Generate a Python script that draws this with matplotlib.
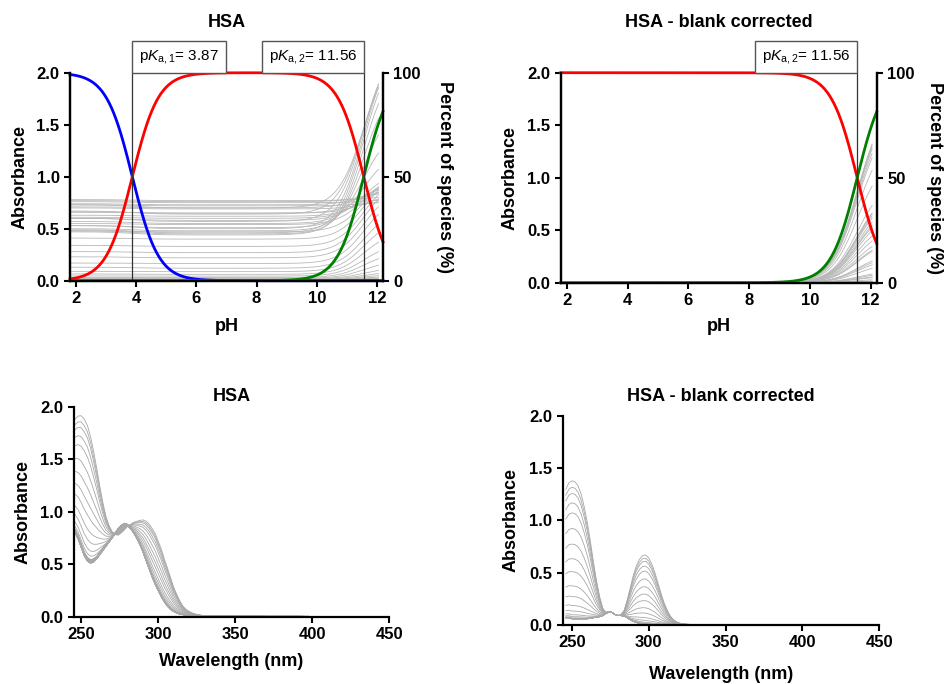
import numpy as np
import matplotlib.pyplot as plt
import matplotlib.transforms as mtransforms

plt.rcParams['font.family'] = ['Liberation Sans', 'DejaVu Sans']
plt.rcParams['font.weight'] = 'bold'
plt.rcParams['mathtext.fontset'] = 'custom'
plt.rcParams['mathtext.rm'] = 'Liberation Sans:normal'
plt.rcParams['mathtext.it'] = 'Liberation Sans:italic:normal'

# pKa values from the fit
pka1 = 3.87
pka2 = 11.56

# pH of the measured spectra
ph_points = [1.85, 2.1, 2.4, 2.7, 3.0, 3.3, 3.6, 3.9, 4.2, 4.5, 4.9, 5.3,
             5.8, 6.3, 6.8, 7.3, 7.8, 8.3, 8.8, 9.2, 9.6, 9.9, 10.2, 10.45,
             10.7, 10.9, 11.1, 11.25, 11.4, 11.55, 11.7, 11.8, 11.9, 11.97, 12.05]

# wavelength grid (nm)
wavelength = [246, 248, 250, 252, 254, 256, 258, 260, 262, 264, 266, 268, 270,
              272, 274, 276, 278, 280, 282, 284, 286, 288, 290, 292, 294, 296,
              298, 300, 302, 304, 306, 308, 310, 312, 314, 316, 318, 320, 322,
              324, 326, 328, 330, 340, 355, 370, 390, 410, 430, 450]

# species spectra (absorbance) used for the spectra panel
spec_acid = [0.83, 0.77, 0.69, 0.61, 0.56, 0.54, 0.55, 0.57, 0.61, 0.65, 0.69, 0.72, 0.76,
             0.80, 0.84, 0.87, 0.89, 0.88, 0.85, 0.81, 0.76, 0.70, 0.63, 0.55, 0.47, 0.39,
             0.32, 0.26, 0.20, 0.15, 0.105, 0.075, 0.052, 0.037, 0.026, 0.02, 0.015, 0.012, 0.01,
             0.009, 0.008, 0.007, 0.006, 0.005, 0.004, 0.003, 0.003, 0.002, 0.002, 0.002]
spec_neutral = [0.80, 0.74, 0.66, 0.58, 0.53, 0.51, 0.52, 0.55, 0.59, 0.63, 0.67, 0.71, 0.75,
                0.79, 0.83, 0.86, 0.88, 0.87, 0.84, 0.80, 0.75, 0.69, 0.62, 0.54, 0.46, 0.38,
                0.31, 0.25, 0.19, 0.14, 0.10, 0.07, 0.05, 0.035, 0.025, 0.02, 0.015, 0.012, 0.01,
                0.009, 0.008, 0.007, 0.006, 0.005, 0.004, 0.003, 0.003, 0.002, 0.002, 0.002]
spec_base = [2.23, 2.29, 2.32, 2.30, 2.24, 2.11, 1.92, 1.70, 1.46, 1.24, 1.05, 0.92, 0.83,
             0.78, 0.76, 0.78, 0.81, 0.86, 0.89, 0.93, 0.96, 0.99, 1.02, 1.03, 1.02, 0.99,
             0.95, 0.87, 0.79, 0.68, 0.58, 0.47, 0.355, 0.27, 0.19, 0.126, 0.087, 0.062, 0.043,
             0.030, 0.022, 0.015, 0.011, 0.006, 0.004, 0.003, 0.003, 0.002, 0.002, 0.002]

# titration traces (absorbance vs pH panel), low and mid pH levels
trace_acid = [0.73, 0.67, 0.60, 0.53, 0.49, 0.47, 0.48, 0.50, 0.53, 0.57, 0.60, 0.63, 0.66,
              0.70, 0.73, 0.76, 0.78, 0.77, 0.74, 0.71, 0.66, 0.61, 0.55, 0.48, 0.41, 0.34,
              0.28, 0.23, 0.17, 0.13, 0.09, 0.065, 0.046, 0.032, 0.023, 0.018, 0.014, 0.011, 0.009,
              0.008, 0.007, 0.006, 0.005, 0.004, 0.003, 0.003, 0.002, 0.002, 0.002, 0.002]
trace_neutral = [0.70, 0.64, 0.57, 0.50, 0.46, 0.44, 0.45, 0.48, 0.51, 0.55, 0.58, 0.62, 0.65,
                 0.69, 0.72, 0.75, 0.77, 0.76, 0.73, 0.70, 0.65, 0.60, 0.54, 0.47, 0.40, 0.33,
                 0.27, 0.22, 0.165, 0.12, 0.087, 0.061, 0.044, 0.03, 0.022, 0.017, 0.013, 0.01, 0.009,
                 0.008, 0.007, 0.006, 0.005, 0.004, 0.003, 0.003, 0.002, 0.002, 0.002, 0.002]

# blank corrected: residual at low pH and spectrum at the highest pH
bc_low = [0.07, 0.07, 0.06, 0.06, 0.06, 0.06, 0.06, 0.06, 0.065, 0.07, 0.075, 0.08, 0.09,
          0.11, 0.125, 0.12, 0.10, 0.09, 0.09, 0.085, 0.07, 0.05, 0.035, 0.025, 0.015, 0.01,
          0.006, 0.004, 0.003, 0.003, 0.003, 0.003, 0.003, 0.003, 0.003, 0.002, 0.002, 0.002, 0.002,
          0.002, 0.002, 0.002, 0.002, 0.002, 0.002, 0.002, 0.002, 0.002, 0.002, 0.002]
bc_high = [1.30, 1.36, 1.38, 1.37, 1.33, 1.25, 1.13, 0.98, 0.80, 0.60, 0.42, 0.27, 0.16,
           0.12, 0.13, 0.12, 0.10, 0.09, 0.10, 0.14, 0.24, 0.36, 0.48, 0.57, 0.63, 0.665,
           0.67, 0.64, 0.58, 0.50, 0.40, 0.30, 0.21, 0.14, 0.085, 0.05, 0.03, 0.018, 0.012,
           0.008, 0.006, 0.005, 0.004, 0.003, 0.003, 0.002, 0.002, 0.002, 0.002, 0.002]

GREY = '#b8b8b8'


def fractions(ph):
    # species distribution of a diprotic system
    h = 10.0 ** (-np.asarray(ph))
    k1 = 10.0 ** (-pka1)
    k2 = 10.0 ** (-pka2)
    d = h * h + h * k1 + k1 * k2
    return h * h / d, h * k1 / d, k1 * k2 / d


def deprot(ph):
    return 1.0 / (1.0 + 10.0 ** (pka2 - np.asarray(ph)))


def style(ax):
    for side in ['left', 'bottom', 'right']:
        ax.spines[side].set_linewidth(1.6)
    ax.spines['top'].set_visible(False)
    ax.tick_params(direction='out', length=4, width=1.5, labelsize=12)


def pka_box(ax, x, text, side):
    trans = mtransforms.blended_transform_factory(ax.transData, ax.transAxes)
    dx = 5 if side == 'left' else -5
    ax.annotate(text, xy=(x, 1.0), xycoords=trans, xytext=(dx, 5), textcoords='offset points',
                ha=side, va='bottom', fontsize=11, fontweight='normal', annotation_clip=False,
                bbox=dict(boxstyle='square,pad=0.45', fc='white', ec='#555555', lw=1))


S1 = np.array(spec_acid)
S2 = np.array(spec_neutral)
S3 = np.array(spec_base)
T1 = np.array(trace_acid)
T2 = np.array(trace_neutral)
B0 = np.array(bc_low)
B1 = np.array(bc_high)

ph_line = np.linspace(ph_points[0], ph_points[-1], 300)
ph_fine = np.linspace(1.8, 12.2, 400)

fig = plt.figure(figsize=(9.45, 6.84), dpi=100)

# ---- top left: absorbance vs pH with species distribution
ax = fig.add_axes([0.0741, 0.5896, 0.3312, 0.3041])
f1, f2, f3 = fractions(ph_line)
absb = np.outer(f1, T1) + np.outer(f2, T2) + np.outer(f3, S3)
ax.plot(ph_line, absb, color=GREY, lw=0.6)
ax.set_xlim(1.8, 12.2)
ax.set_ylim(0, 2)
ax.set_xticks([2, 4, 6, 8, 10, 12])
ax.set_yticks([0, 0.5, 1.0, 1.5, 2.0])
ax.set_yticklabels(['0.0', '0.5', '1.0', '1.5', '2.0'])
ax.set_ylabel('Absorbance', fontsize=13, fontweight='bold')
ax.yaxis.set_label_coords(-0.131, 0.5)
ax.set_xlabel('pH', fontsize=13, fontweight='bold')
ax.xaxis.set_label_coords(0.5, -0.179)
ax.set_title('HSA', fontsize=13, fontweight='bold', pad=33)
style(ax)

ax2 = ax.twinx()
g1, g2, g3 = fractions(ph_fine)
ax2.plot(ph_fine, g1 * 100, color='#0000ff', lw=2, clip_on=False)
ax2.plot(ph_fine, g2 * 100, color='#ff0000', lw=2, clip_on=False)
ax2.plot(ph_fine, g3 * 100, color='#008000', lw=2, clip_on=False)
ax2.axvline(pka1, color='#333333', lw=0.9)
ax2.axvline(pka2, color='#333333', lw=0.9)
ax2.set_ylim(0, 100)
ax2.set_yticks([0, 50, 100])
ax2.set_ylabel('Percent of species (%)', fontsize=13, fontweight='bold', rotation=270, va='bottom')
ax2.yaxis.set_label_coords(1.169, 0.5)
style(ax2)
pka_box(ax2, pka1, 'p$K_{\\mathrm{a,1}}$= 3.87', 'left')
pka_box(ax2, pka2, 'p$K_{\\mathrm{a,2}}$= 11.56', 'right')

# ---- top right: blank corrected absorbance vs pH
ax = fig.add_axes([0.5933, 0.5867, 0.3344, 0.3070])
frac = deprot(ph_line) / deprot(ph_points[-1])
ax.plot(ph_line, np.outer(frac, B1 - B0), color=GREY, lw=0.6)
ax.set_xlim(1.8, 12.2)
ax.set_ylim(0, 2)
ax.set_xticks([2, 4, 6, 8, 10, 12])
ax.set_yticks([0, 0.5, 1.0, 1.5, 2.0])
ax.set_yticklabels(['0.0', '0.5', '1.0', '1.5', '2.0'])
ax.set_ylabel('Absorbance', fontsize=13, fontweight='bold')
ax.yaxis.set_label_coords(-0.132, 0.5)
ax.set_xlabel('pH', fontsize=13, fontweight='bold')
ax.xaxis.set_label_coords(0.5, -0.168)
ax.set_title('HSA - blank corrected', fontsize=13, fontweight='bold', pad=33)
style(ax)

ax2 = ax.twinx()
d = deprot(ph_fine)
ax2.plot(ph_fine, (1 - d) * 100, color='#ff0000', lw=2, clip_on=False)
ax2.plot(ph_fine, d * 100, color='#008000', lw=2, clip_on=False)
ax2.axvline(pka2, color='#333333', lw=0.9)
ax2.set_ylim(0, 100)
ax2.set_yticks([0, 50, 100])
ax2.set_ylabel('Percent of species (%)', fontsize=13, fontweight='bold', rotation=270, va='bottom')
ax2.yaxis.set_label_coords(1.156, 0.5)
style(ax2)
pka_box(ax2, pka2, 'p$K_{\\mathrm{a,2}}$= 11.56', 'right')

# ---- bottom left: spectra
ax = fig.add_axes([0.0778, 0.0984, 0.3342, 0.3070])
p1, p2, p3 = fractions(ph_points)
spectra = np.outer(p1, S1) + np.outer(p2, S2) + np.outer(p3, S3)
ax.plot(wavelength, spectra.T, color='#a8a8a8', lw=0.6)
ax.set_xlim(245, 450)
ax.set_ylim(0, 2)
ax.set_xticks([250, 300, 350, 400, 450])
ax.set_yticks([0, 0.5, 1.0, 1.5, 2.0])
ax.set_yticklabels(['0.0', '0.5', '1.0', '1.5', '2.0'])
ax.set_ylabel('Absorbance', fontsize=13, fontweight='bold')
ax.yaxis.set_label_coords(-0.134, 0.5)
ax.set_xlabel('Wavelength (nm)', fontsize=13, fontweight='bold')
ax.xaxis.set_label_coords(0.5, -0.173)
ax.set_title('HSA', fontsize=13, fontweight='bold', pad=4)
style(ax)
ax.spines['right'].set_visible(False)

# ---- bottom right: blank corrected spectra
ax = fig.add_axes([0.5955, 0.0863, 0.3350, 0.3055])
fb = deprot(ph_points) / deprot(ph_points[-1])
bc_spectra = B0 + np.outer(fb, B1 - B0)
ax.plot(wavelength, bc_spectra.T, color='#a8a8a8', lw=0.6)
ax.set_xlim(244, 450)
ax.set_ylim(0, 2)
ax.set_xticks([250, 300, 350, 400, 450])
ax.set_yticks([0, 0.5, 1.0, 1.5, 2.0])
ax.set_yticklabels(['0.0', '0.5', '1.0', '1.5', '2.0'])
ax.set_ylabel('Absorbance', fontsize=13, fontweight='bold')
ax.yaxis.set_label_coords(-0.138, 0.5)
ax.set_xlabel('Wavelength (nm)', fontsize=13, fontweight='bold')
ax.xaxis.set_label_coords(0.5, -0.196)
ax.set_title('HSA - blank corrected', fontsize=13, fontweight='bold', pad=11)
style(ax)
ax.spines['right'].set_visible(False)

fig.savefig('out.png', dpi=100)
